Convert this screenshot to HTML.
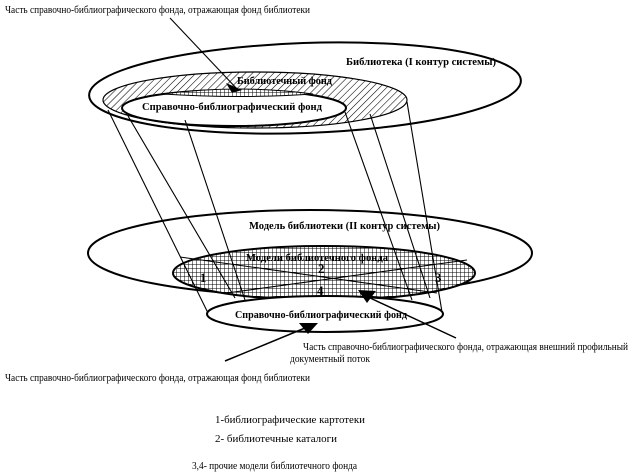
<!DOCTYPE html>
<html><head><meta charset="utf-8"><style>
html,body{margin:0;padding:0;background:#fff;}
svg{display:block;}
text{font-family:"Liberation Serif",serif;fill:#000;}
.b{font-weight:bold;font-size:10px;}
.n{font-size:10px;}
</style></head><body>
<svg width="635" height="476" viewBox="0 0 635 476" xmlns="http://www.w3.org/2000/svg">
<defs>
<pattern id="hatch" width="5" height="5" patternUnits="userSpaceOnUse" patternTransform="rotate(45)">
<rect width="5" height="5" fill="#fff"/><line x1="0" y1="0" x2="0" y2="5" stroke="#000" stroke-width="1.1"/>
</pattern>
<pattern id="grid" width="4" height="4" patternUnits="userSpaceOnUse">
<rect width="4" height="4" fill="#fff"/><path d="M0 0H4M0 0V4" stroke="#000" stroke-width="1"/>
</pattern>
</defs>
<g fill="none" stroke="#000" stroke-width="2">
<ellipse cx="305" cy="88" rx="216" ry="45" transform="rotate(-2 305 88)"/>
<ellipse cx="255" cy="100" rx="152" ry="28" fill="url(#hatch)" stroke-width="1.2"/>
<ellipse cx="234" cy="108" rx="112" ry="18" fill="#fff"/>
<path d="M163 94 Q240 84 313 94 Q240 99 163 94Z" fill="url(#grid)" stroke-width="1"/>
<ellipse cx="310" cy="253" rx="222" ry="43"/>
<ellipse cx="324" cy="273" rx="151" ry="27" fill="url(#grid)"/>
<ellipse cx="325" cy="314" rx="118" ry="18" fill="#fff"/>
</g>
<g stroke="#000" stroke-width="1.1" fill="none">
<line x1="108" y1="110" x2="208" y2="313"/>
<line x1="128" y1="116" x2="235" y2="298"/>
<line x1="185" y1="120" x2="245" y2="300"/>
<line x1="345" y1="112" x2="412" y2="300"/>
<line x1="370" y1="114" x2="430" y2="298"/>
<line x1="407" y1="102" x2="442" y2="312"/>
<line x1="180" y1="257" x2="437" y2="293"/>
<line x1="227" y1="293" x2="467" y2="260"/>
<line x1="170" y1="18" x2="238" y2="90"/>
<line x1="225" y1="361" x2="305" y2="328" stroke-width="1.5"/>
<line x1="456" y1="338" x2="368" y2="297" stroke-width="1.5"/>
</g>
<polygon points="232,93 226,83 242,90" fill="#000"/>
<polygon points="299,323 318,323 308,334" fill="#000"/>
<polygon points="358,290 376,291 367,303" fill="#000"/>
<text class="n" x="5" y="13" textLength="305" lengthAdjust="spacingAndGlyphs">Часть справочно-библиографического фонда, отражающая фонд библиотеки</text>
<text class="b" x="346" y="65" textLength="150" lengthAdjust="spacingAndGlyphs">Библиотека (I контур системы)</text>
<text class="b" x="237" y="84" textLength="95" lengthAdjust="spacingAndGlyphs">Библиотечный фонд</text>
<text class="b" x="142" y="110" textLength="180" lengthAdjust="spacingAndGlyphs">Справочно-библиографический фонд</text>
<text class="b" x="249" y="229" textLength="191" lengthAdjust="spacingAndGlyphs">Модель библиотеки (II контур системы)</text>
<text class="b" x="246" y="261" textLength="142" lengthAdjust="spacingAndGlyphs">Модели библиотечного фонда</text>
<text x="200" y="282" style="font-size:13px;font-weight:bold">1</text>
<text x="318" y="273" style="font-size:13px;font-weight:bold">2</text>
<text x="317" y="295" style="font-size:13px;font-weight:bold">4</text>
<text x="435" y="282" style="font-size:13px;font-weight:bold">3</text>
<text class="b" x="235" y="318" textLength="172" lengthAdjust="spacingAndGlyphs">Справочно-библиографический фонд</text>
<text class="n" x="303" y="350" textLength="325" lengthAdjust="spacingAndGlyphs">Часть справочно-библиографического фонда, отражающая внешний профильный</text>
<text class="n" x="290" y="362" textLength="80" lengthAdjust="spacingAndGlyphs">документный поток</text>
<text class="n" x="5" y="381" textLength="305" lengthAdjust="spacingAndGlyphs">Часть справочно-библиографического фонда, отражающая фонд библиотеки</text>
<text class="n" x="215" y="423" textLength="150" lengthAdjust="spacingAndGlyphs">1-библиографические картотеки</text>
<text class="n" x="215" y="442" textLength="122" lengthAdjust="spacingAndGlyphs">2- библиотечные каталоги</text>
<text class="n" x="192" y="469" textLength="165" lengthAdjust="spacingAndGlyphs">3,4- прочие модели библиотечного фонда</text>
</svg>
</body></html>
